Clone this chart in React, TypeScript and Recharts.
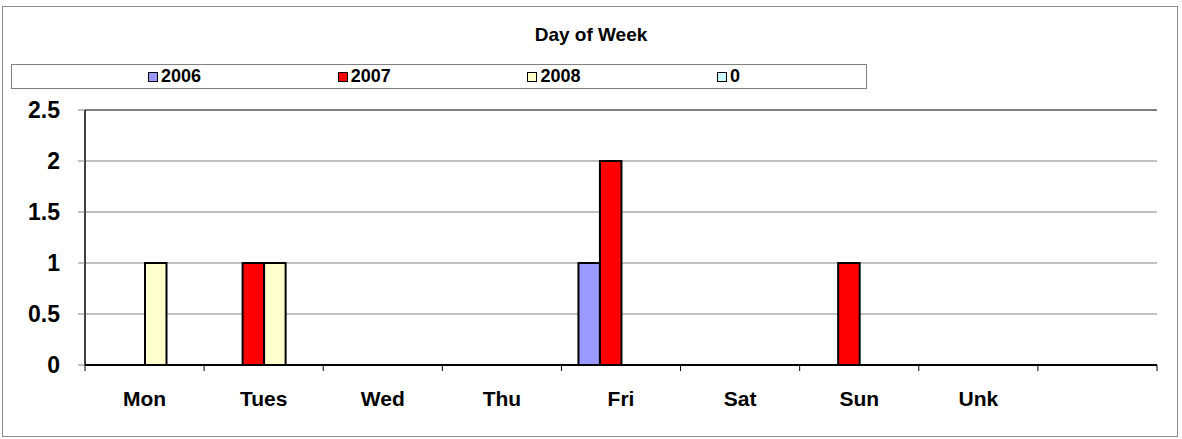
import React from "react";
import {
  BarChart,
  Bar,
  XAxis,
  YAxis,
  CartesianGrid,
  Legend,
  ReferenceLine,
} from "recharts";

// Day of week counts per year.
// Blank cells are null (the "0" series has no bars at all).
const days = ["Mon", "Tues", "Wed", "Thu", "Fri", "Sat", "Sun", "Unk", ""];
const y2006 = [null, null, null, null, 1, null, null, null, null];
const y2007 = [null, 1, null, null, 2, null, 1, null, null];
const y2008 = [1, 1, null, null, null, null, null, null, null];
const yZero = [null, null, null, null, null, null, null, null, null];
const yTicks = [0, 0.5, 1, 1.5, 2, 2.5];

const seriesNames = ["2006", "2007", "2008", "0"];
const seriesColors = ["#9999FF", "#FF0000", "#FFFFCC", "#CCFFFF"];

const data = days.map((day, i) => ({
  day,
  s2006: y2006[i],
  s2007: y2007[i],
  s2008: y2008[i],
  s0: yZero[i],
}));
const seriesKeys = ["s2006", "s2007", "s2008", "s0"];

const FONT = "'Liberation Sans', Arial, sans-serif";

// Excel puts category ticks on the band edges, labels in the middle.
function DayTick(props: any) {
  const { x, y, payload, index } = props;
  const half = payload?.offset ?? 59.5;
  return (
    <g>
      <line x1={x - half} x2={x - half} y1={y} y2={y + 6} stroke="#000" />
      {index === days.length - 1 && (
        <line x1={x + half} x2={x + half} y1={y} y2={y + 6} stroke="#000" />
      )}
      <text
        x={x}
        y={y + 41}
        textAnchor="middle"
        fontFamily={FONT}
        fontWeight="bold"
        fontSize={21}
        fill="#000"
      >
        {payload.value}
      </text>
    </g>
  );
}

// legend keeps the series order (recharts would sort it by name)
function LegendBox() {
  return (
    <div
      style={{
        position: "relative",
        width: 856,
        height: 25,
        boxSizing: "border-box",
        border: "1px solid #808080",
        background: "#fff",
      }}
    >
      {seriesNames.map((name, i) => (
        <div
          key={name}
          style={{
            position: "absolute",
            left: 136 + i * 189.7,
            top: 0,
            height: 23,
            display: "flex",
            alignItems: "center",
            fontFamily: FONT,
            fontWeight: "bold",
            fontSize: 18,
            color: "#000",
          }}
        >
          <span
            style={{
              display: "inline-block",
              width: 10,
              height: 10,
              boxSizing: "border-box",
              border: "1.5px solid #000",
              background: seriesColors[i],
              marginRight: 3,
            }}
          />
          {name}
        </div>
      ))}
    </div>
  );
}

export default function App() {
  return (
    <div
      style={{
        position: "absolute",
        left: 0,
        top: 0,
        width: 1182,
        height: 439,
        background: "#fff",
      }}
    >
      <div
        style={{
          position: "absolute",
          left: 2,
          top: 6,
          width: 1176,
          height: 431,
          boxSizing: "border-box",
          border: "1px solid #8c8c8c",
        }}
      />
      <div
        style={{
          position: "absolute",
          left: 0,
          top: 25,
          width: 1182,
          textAlign: "center",
          fontFamily: FONT,
          fontWeight: "bold",
          fontSize: 19,
          lineHeight: "19px",
          color: "#000",
        }}
      >
        Day of Week
      </div>
      <BarChart
        width={1182}
        height={439}
        data={data}
        margin={{ top: 110, right: 25, bottom: 0, left: 0 }}
        barSize={21.5}
        barGap={0}
        style={{ position: "absolute", left: 0, top: 0 }}
      >
        <CartesianGrid vertical={false} stroke="#808080" />
        <XAxis
          dataKey="day"
          height={74}
          interval={0}
          tickSize={0}
          tickMargin={0}
          tickLine={false}
          axisLine={{ stroke: "#000", strokeWidth: 2 }}
          tick={<DayTick />}
        />
        <YAxis
          width={85}
          domain={[0, 2.5]}
          ticks={yTicks}
          interval={0}
          tickSize={7}
          tickMargin={18}
          tickLine={{ stroke: "#808080" }}
          axisLine={{ stroke: "#000", strokeWidth: 1.5 }}
          tickFormatter={(v: number) => String(v)}
          tick={{
            fill: "#000",
            fontFamily: FONT,
            fontWeight: "bold",
            fontSize: 23,
          }}
        />
        <YAxis
          yAxisId="right"
          orientation="right"
          width={0}
          domain={[0, 2.5]}
          tick={false}
          tickLine={false}
          axisLine={{ stroke: "#909090", strokeWidth: 2 }}
        />
        <ReferenceLine y={2.5} stroke="#808080" strokeWidth={2} />
        <Legend
          layout="horizontal"
          verticalAlign="middle"
          align="center"
          wrapperStyle={{ left: 11, top: 64, width: 856, height: 25 }}
          content={() => <LegendBox />}
        />
        {seriesKeys.map((k, i) => (
          <Bar
            key={k}
            dataKey={k}
            name={seriesNames[i]}
            fill={seriesColors[i]}
            stroke="#000"
            strokeWidth={2}
            isAnimationActive={false}
          />
        ))}
      </BarChart>
    </div>
  );
}
